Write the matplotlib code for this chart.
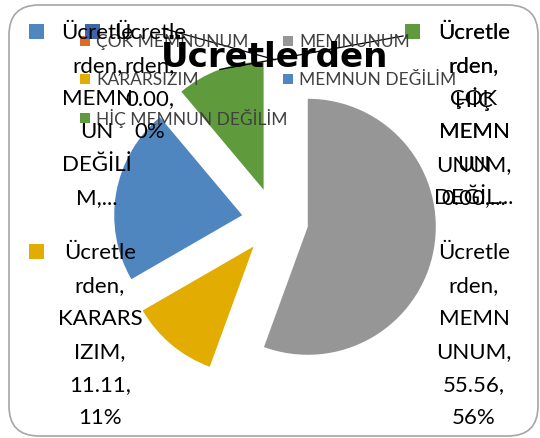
import matplotlib
matplotlib.use("Agg")
import matplotlib.pyplot as plt
from matplotlib.patches import FancyBboxPatch, Rectangle
import numpy as np

plt.rcParams['font.family'] = ['Lato', 'DejaVu Sans']

W, H = 540, 439

# --- veri ---
kategoriler = ["ÇOK MEMNUNUM", "MEMNUNUM", "KARARSIZIM", "MEMNUN DEĞİLİM", "HİÇ MEMNUN DEĞİLİM"]
degerler = [0.00, 55.56, 11.11, 22.22, 11.11]
renkler = ["#3F64A9", "#969696", "#E2AC00", "#4F86BF", "#5F9B3D"]
lejant_renk = ["#DB6C2A", "#969696", "#E2AC00", "#4F86BF", "#5F9B3D"]
baslik = "Ücretlerden"

# veri etiketleri (Excel'in kırptığı haliyle)
etiket_memnun_degil = ["Ücretle", "rden,", "MEMN", "UN", "DEĞİLİ", "M,..."]
etiket_cok = ["Ücretle", "rden,", "0.00,", "0%"]
etiket_hic = ["Ücretle", "rden,", "HİÇ", "MEMN", "UN", "DEĞİL..."]
etiket_cok2 = ["Ücretle", "rden,", "ÇOK", "MEMN", "UNUM,", "0.00,..."]
etiket_kararsiz = ["Ücretle", "rden,", "KARARS", "IZIM,", "11.11,", "11%"]
etiket_memnun = ["Ücretle", "rden,", "MEMN", "UNUM,", "55.56,", "56%"]

fig = plt.figure(figsize=(W / 100, H / 100), dpi=100)
ax = fig.add_axes([0, 0, 1, 1])

# pasta merkezi ve yarıçapı (piksel)
cx, cy, R = 275, 222, 128


def veri(x, y):
    return (x - cx) / R, (cy - y) / R


wedges, _ = ax.pie(degerler, colors=renkler, startangle=90, counterclock=False,
                   radius=1, center=(0, 0), explode=[0.26] * 5,
                   wedgeprops=dict(linewidth=0))
ax.set_xlim(-cx / R, (W - cx) / R)
ax.set_ylim(-(H - cy) / R, cy / R)
ax.set_aspect('auto')
ax.axis('off')

# çerçeve
x0, y0 = veri(9, 437)
x1, y1 = veri(538, 6)
ax.add_patch(FancyBboxPatch((x0, y0), x1 - x0, y1 - y0,
                            boxstyle=f"round,pad=0,rounding_size={30 / R}",
                            fill=False, edgecolor="#A6A6A6", linewidth=1.2,
                            clip_on=False, zorder=0))


def orta_nokta(w):
    th = np.deg2rad((w.theta1 + w.theta2) / 2)
    return w.center[0] + w.r * np.cos(th), w.center[1] + w.r * np.sin(th)


# kılavuz çizgileri
for (px, py), w in [((165, 30), wedges[0]), ((403, 37), wedges[4])]:
    lx, ly = veri(px, py)
    mx, my = orta_nokta(w)
    ax.plot([lx, mx], [ly, my], color="black", linewidth=0.9, zorder=3)


def kare(x, y, s, renk):
    ax.add_patch(Rectangle(veri(x, y + s), s / R, s / R, facecolor=renk,
                           edgecolor="none", zorder=4))


def etiket(satirlar, xc, ys, boyut=16):
    for s, yy in zip(satirlar, ys):
        fig.text(xc / W, 1 - yy / H, s, ha="center", va="center",
                 fontsize=boyut, color="black", zorder=5)


ust = [33, 66, 99, 132, 165, 198]
alt = [253, 286, 319, 352, 385, 418]

# lejant
lejant_yer = [(80, 37), (283, 37), (80, 75), (283, 75), (80, 114)]
for ad, renk, (lx, ly) in zip(kategoriler, lejant_renk, lejant_yer):
    kare(lx, ly, 10, renk)
    fig.text((lx + 16) / W, 1 - (ly + 5) / H, ad, ha="left", va="center",
             fontsize=12.5, color="#404040", zorder=5)

# başlık
fig.text(275 / W, 1 - 67 / H, baslik, ha="center", va="baseline",
         fontsize=24.5, fontweight="bold", family="DejaVu Sans",
         color="black", zorder=6)

# veri etiketleri
kare(29, 25, 15, renkler[3])
etiket(etiket_memnun_degil, 97, ust)
kare(85, 25, 15, renkler[0])
etiket(etiket_cok, 150, ust[:4])
kare(405, 25, 15, renkler[4])
etiket(etiket_hic, 474, ust)
etiket(etiket_cok2, 474, ust)
kare(29, 245, 15, renkler[2])
etiket(etiket_kararsiz, 100, alt)
etiket(etiket_memnun, 474, alt)

fig.savefig("out.png", dpi=100)
